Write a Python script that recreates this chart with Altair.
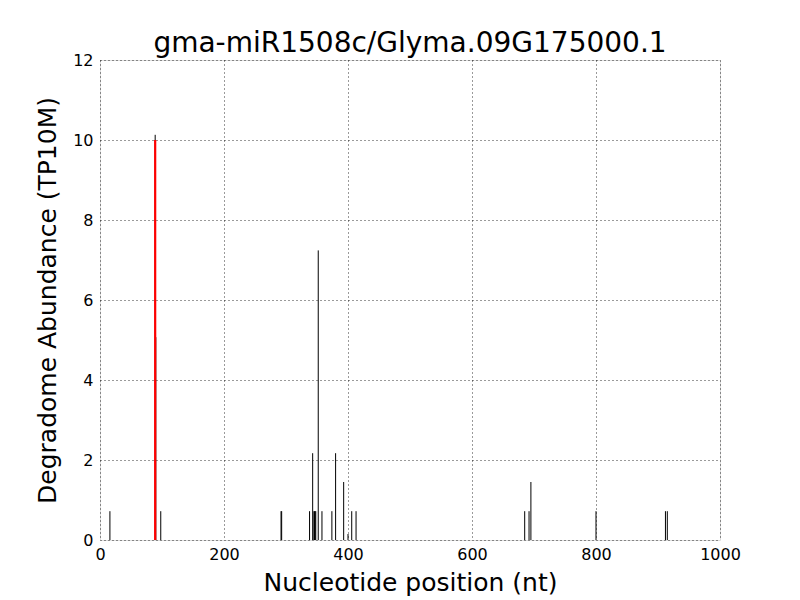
import altair as alt
import pandas as pd

# data
positions = [16, 89, 90, 98, 292, 293, 338, 343, 345, 346, 347, 348, 352, 358, 374, 380, 393, 400, 406, 413, 685, 692, 695, 800, 912, 915]
abundance = [0.72, 10.13, 5.07, 0.72, 0.72, 0.72, 0.72, 2.17, 0.72, 0.72, 0.72, 0.72, 7.24, 0.72, 0.72, 2.17, 1.45, 0.15, 0.72, 0.72, 0.72, 0.72, 1.45, 0.72, 0.72, 0.72]
site_pos = [89]
site_val = [10.0]
x_ticks = [0, 200, 400, 600, 800, 1000]
y_ticks = [0, 2, 4, 6, 8, 10, 12]

FONT = "DejaVu Sans"

bars_df = pd.DataFrame({"pos": positions, "val": abundance})
site_df = pd.DataFrame({"pos": site_pos, "val": site_val})

xscale = alt.Scale(domain=[0, 1000], nice=False, zero=False)
yscale = alt.Scale(domain=[0, 12], nice=False)

xaxis = alt.Axis(values=x_ticks, format="d", grid=True, gridColor="black", gridDash=[1, 3],
                 gridWidth=0.8, tickSize=0, domain=False, labelFont=FONT, labelFontSize=16,
                 labelColor="black", labelPadding=6, labelFlush=False, labelOverlap=False,
                 title="Nucleotide position (nt)",
                 titleFont=FONT, titleFontSize=25, titleFontWeight="normal", titleColor="black",
                 titlePadding=8)
yaxis = alt.Axis(values=y_ticks, format="d", grid=True, gridColor="black", gridDash=[1, 3],
                 gridWidth=0.8, tickSize=0, domain=False, labelFont=FONT, labelFontSize=16,
                 labelColor="black", labelPadding=7, labelFlush=False, labelOverlap=False,
                 title="Degradome Abundance (TP10M)",
                 titleFont=FONT, titleFontSize=25, titleFontWeight="normal", titleColor="black",
                 titlePadding=12)

bars = alt.Chart(bars_df).mark_rule(color="black", strokeWidth=1).encode(
    x=alt.X("pos:Q", scale=xscale, axis=xaxis),
    y=alt.Y("val:Q", scale=yscale, axis=yaxis),
    y2=alt.datum(0),
)

site = alt.Chart(site_df).mark_rule(color="red", strokeWidth=2.2).encode(
    x=alt.X("pos:Q", scale=xscale),
    y=alt.Y("val:Q", scale=yscale),
    y2=alt.datum(0),
)

chart = alt.layer(bars, site).properties(
    width=620, height=480,
    title=alt.TitleParams("gma-miR1508c/Glyma.09G175000.1", font=FONT, fontSize=28,
                          fontWeight="normal", color="black", anchor="middle", offset=-6),
    autosize=alt.AutoSizeParams(type="none"),
    padding={"left": 92, "top": 52, "right": 72, "bottom": 60},
).configure_view(stroke="black", strokeWidth=1.2).configure(background="white")

chart.save("out.html", embed_options={"renderer": "svg", "actions": False})
